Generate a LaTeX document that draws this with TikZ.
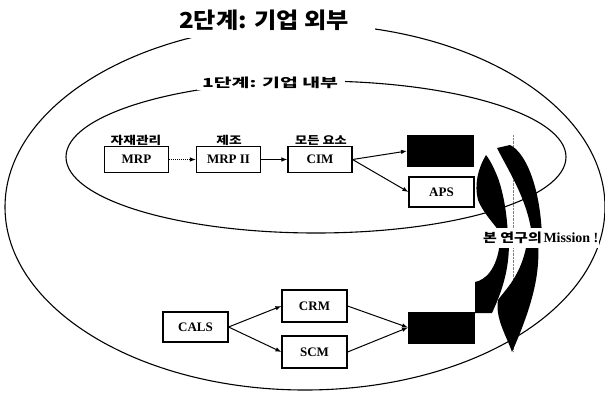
\documentclass[tikz,border=0pt]{standalone}
\usepackage{fontspec}
\usepackage{graphicx}
\setmainfont{Liberation Serif}
\newfontfamily\kr{Noto Sans CJK KR}
\usetikzlibrary{arrows.meta}
\newcommand{\wideko}[2]{\scalebox{#1}[1]{#2}}

\begin{document}
\begin{tikzpicture}[x=1pt,y=-1pt,
  box/.style={draw, line width=1.1pt, minimum width=64pt, minimum height=26pt,
    inner sep=0pt, font=\bfseries\fontsize{13}{13}\selectfont},
  darkbox/.style={draw, fill=black, line width=1pt, minimum width=66pt,
    minimum height=31pt, inner sep=0pt},
  conn/.style={line width=1pt, -{Latex[length=6pt,width=4.5pt]}},
  ring/.style={line width=1.1pt},
  kor/.style={font=\kr\bfseries\fontsize{11}{11}\selectfont, inner sep=0pt},
  blob/.style={fill=black, draw=none}]

\useasboundingbox (0,0) rectangle (605,394);

% stage 2 (outer) and stage 1 (inner) ellipses
\draw[ring] (305,207) ellipse [x radius=300, y radius=183];
\draw[ring] (316,157) ellipse [x radius=250, y radius=76];

% openings in the ellipses for their titles
\node[fill=white, minimum width=208pt, minimum height=32pt, inner sep=0pt] (gapouter) at (271,22) {};
\node[fill=white, minimum width=148pt, minimum height=14pt, inner sep=0pt] (gapinner) at (271,83) {};

\node[font=\kr\bfseries\fontsize{22}{22}\selectfont, inner sep=0pt] (title) at (264,20)
  {\wideko{1.1}{2단계: 기업 외부}};
\node[font=\kr\bfseries\fontsize{12.5}{12.5}\selectfont, inner sep=0pt] (innertitle) at (270,83)
  {\wideko{1.55}{1단계: 기업 내부}};

% stage 1 chain
\node[box] (mrp)  at (136.5,159.5) {MRP};
\node[box] (mrp2) at (228.5,159.5) {MRP II};
\node[box] (cim)  at (320,159.5) {CIM};
\node[darkbox] (dark1) at (440.5,151) {};
\node[box, minimum width=65pt, minimum height=30pt] (aps) at (441.5,192) {APS};

\node[kor] (lmrp)  at (136,140) {\wideko{1.25}{자재관리}};
\node[kor] (lmrp2) at (229,140) {\wideko{1.25}{제조}};
\node[kor] (lcim)  at (321,140) {\wideko{1.2}{모든 요소}};

\draw[conn, densely dotted] (mrp) -- (mrp2);
\draw[conn] (mrp2) -- (cim);
\draw[conn] (cim.east) -- (dark1.west);
\draw[conn] (cim.east) -- (aps.west);

% stage 2 chain
\node[box, minimum width=65pt, minimum height=30pt] (cals) at (195.5,327) {CALS};
\node[box, minimum width=65pt, minimum height=32pt] (crm)  at (314.5,306) {CRM};
\node[box, minimum width=65pt, minimum height=32pt] (scm)  at (314.5,352) {SCM};
\node[darkbox] (dark2) at (441.5,327.5) {};

\draw[conn] (cals.east) -- (crm.west);
\draw[conn] (cals.east) -- (scm.west);
\draw[conn] (crm.east) -- (dark2.west);
\draw[conn] (scm.east) -- (dark2.west);

% guide line behind the curved arrows
\draw[gray, line width=0.4pt, densely dotted] (513,135) -- (513,352);

% curved arrow going up (left)
\fill[blob] (486,155) .. controls (478,168) and (474,185) .. (478,200)
  .. controls (484,215) and (496,225) .. (502,236) -- (508,236)
  .. controls (507,215) and (504,195) .. (498,178)
  .. controls (494,168) and (490,160) .. (486,155) -- cycle;
\fill[blob] (500,242) -- (509,242) .. controls (509,265) and (505,285) .. (492,313)
  -- (475,313) -- (475,282) .. controls (485,280) and (497,270) .. (500,242) -- cycle;

% curved arrow going down (right)
\fill[blob] (497,148) -- (510,145) .. controls (525,152) and (540,185) .. (542,236)
  -- (532,236) .. controls (528,200) and (508,170) .. (497,148) -- cycle;
\fill[blob] (527,242) -- (538,242) .. controls (540,270) and (535,300) .. (512,352)
  .. controls (506,335) and (495,318) .. (498,300)
  .. controls (505,290) and (522,275) .. (527,242) -- cycle;

\node[fill=white, anchor=west, inner sep=1pt, minimum height=20pt] (mission) at (482,238)
  {{\kr\bfseries\fontsize{12.5}{12.5}\selectfont\wideko{1.2}{본 연구의}}\,{\bfseries\fontsize{14}{14}\selectfont Mission !}};
\end{tikzpicture}
\end{document}
